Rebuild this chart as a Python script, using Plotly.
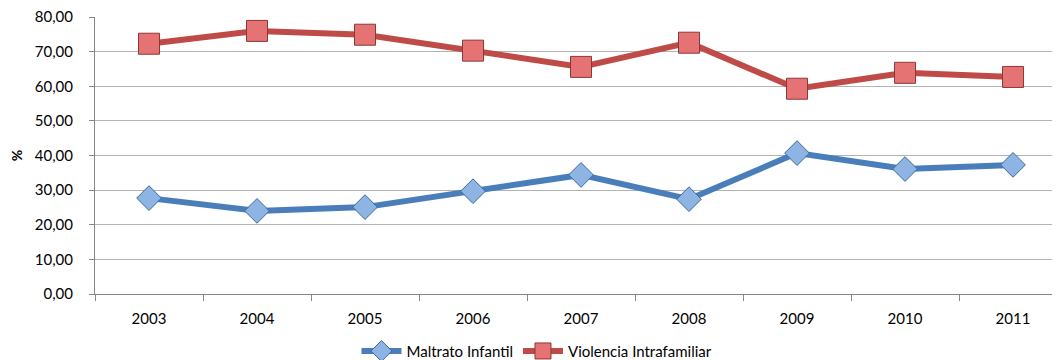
import plotly.graph_objects as go

years = ["2003", "2004", "2005", "2006", "2007", "2008", "2009", "2010", "2011"]
maltrato = [27.7, 24.0, 25.1, 29.7, 34.4, 27.4, 40.7, 36.1, 37.3]
violencia = [72.3, 76.0, 74.9, 70.3, 65.6, 72.6, 59.3, 63.9, 62.7]
y_ticks = [0, 10, 20, 30, 40, 50, 60, 70, 80]

FONT = "Lato"

fig = go.Figure()
fig.add_trace(go.Scatter(
    x=years, y=maltrato, name="Maltrato Infantil", mode="lines+markers",
    line=dict(color="#4A7EBB", width=6),
    marker=dict(symbol="diamond", size=19, color="#8DB4E2",
                line=dict(color="#3B6A9F", width=1)),
))
fig.add_trace(go.Scatter(
    x=years, y=violencia, name="Violencia Intrafamiliar", mode="lines+markers",
    line=dict(color="#BE4B48", width=6),
    marker=dict(symbol="square", size=21, color="#E57373",
                line=dict(color="#8C3836", width=1)),
))

fig.update_layout(
    width=1052, height=352,
    margin=dict(l=87, r=0, t=9, b=66),
    plot_bgcolor="white", paper_bgcolor="white",
    separators=",.",
    font=dict(family=FONT, size=15, color="#000000"),
    showlegend=True,
    legend=dict(orientation="h", x=0.458, xanchor="center",
                yref="container", y=0.025, yanchor="middle",
                font=dict(size=15), itemwidth=40, tracegroupgap=0),
)
fig.update_xaxes(
    type="category", range=[-0.5, 8.435], automargin=False,
    tickson="boundaries", ticks="outside", ticklen=6, tickcolor="#868686",
    showline=True, linecolor="#868686", linewidth=1,
    showgrid=False, ticklabelstandoff=11,
    tickfont=dict(size=15),
)
fig.update_yaxes(
    range=[0, 80.02], tickvals=y_ticks, tickformat=".2f", automargin=False,
    ticks="outside", ticklen=5, tickcolor="#868686",
    showline=True, linecolor="#868686", linewidth=1,
    showgrid=True, gridcolor="#B3B3B3", gridwidth=1,
    zeroline=False, ticklabelstandoff=13, ticklabeloverflow="allow",
    title=dict(text="<b>%</b>", font=dict(size=14), standoff=15),
    tickfont=dict(size=15),
)

fig.write_html("out.html")
